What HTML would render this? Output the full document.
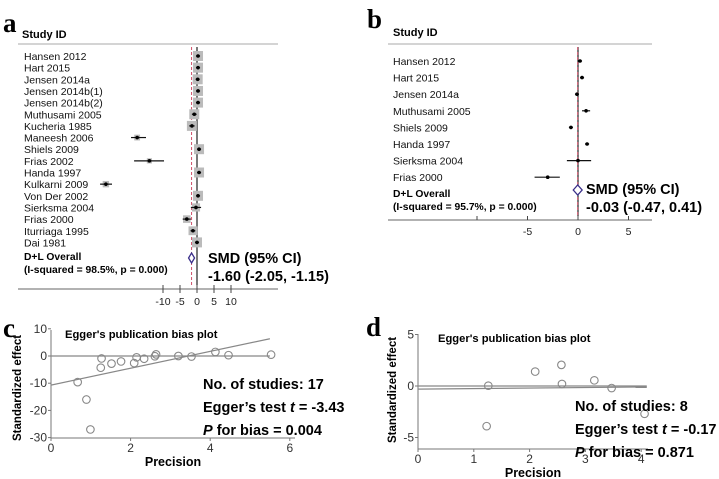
<!DOCTYPE html>
<html><head><meta charset="utf-8"><style>
html,body{margin:0;padding:0;background:#fff;}
svg{display:block;font-family:"Liberation Sans",Arial,sans-serif;}
</style></head><body>
<svg id="fig" width="719" height="479" viewBox="0 0 719 479" xmlns="http://www.w3.org/2000/svg">
<g id="pa"></g>
<g id="pb"></g>
<g id="pc"></g>
<g id="pd"></g>
</svg>
<script>
// ---- data ----
const studiesA = ["Hansen 2012","Hart 2015","Jensen 2014a","Jensen 2014b(1)","Jensen 2014b(2)","Muthusami 2005","Kucheria 1985","Maneesh 2006","Shiels 2009","Frias 2002","Handa 1997","Kulkarni 2009","Von Der 2002","Sierksma 2004","Frias 2000","Iturriaga 1995","Dai 1981"];
const effA = [0.3,0.3,0.2,0.3,0.3,-0.8,-1.5,-17.6,0.6,-14,0.6,-26.8,0.3,-0.3,-3,-1.2,0];
const loA  = [-0.3,-0.3,-0.4,-0.3,-0.3,-1.5,-2.3,-19.4,0,-18.5,0,-28.5,-0.3,-1.8,-4.2,-1.9,-0.6];
const hiA  = [0.9,0.9,0.8,0.9,0.9,-0.1,-0.7,-15,1.2,-9.7,1.2,-25,0.9,1.2,-1.8,-0.5,0.6];
const wA   = [1,1,1,1,1,1,1,0.3,1,0.2,1,0.4,1,0.7,0.6,0.8,1];
const ticksA = [-10,-5,0,5,10];
const overallA = [-1.6,-2.05,-1.15];

const studiesB = ["Hansen 2012","Hart 2015","Jensen 2014a","Muthusami 2005","Shiels 2009","Handa 1997","Sierksma 2004","Frias 2000"];
const effB = [0.2,0.4,-0.1,0.8,-0.7,0.9,0,-3];
const loB  = [0,0.2,-0.3,0.4,-0.9,0.7,-1.1,-4.3];
const hiB  = [0.4,0.6,0.1,1.2,-0.5,1.1,1.3,-1.8];
const ticksB = [-5,0,5];
const overallB = [-0.03,-0.47,0.41];

const precC = [0.67,0.89,0.99,1.27,1.25,1.52,1.76,2.09,2.15,2.34,2.61,2.64,3.2,3.53,4.13,4.46,5.53];
const stdC  = [-9.6,-16,-27,-0.9,-4.3,-2.8,-2,-2.6,-0.5,-1,-0.1,0.6,0,-0.2,1.5,0.3,0.5];
const xticksC = [0,2,4,6];
const yticksC = [10,0,-10,-20,-30];
const regC = [-10.7,3.1]; // intercept, slope

const precD = [1.26,1.23,2.1,2.57,2.58,3.16,3.47,4.06];
const stdD  = [0.03,-3.9,1.4,2.05,0.2,0.55,-0.2,-2.7];
const xticksD = [0,1,2,3,4];
const yticksD = [5,0,-5];
const regD = [-0.3,0.05];

const NS="http://www.w3.org/2000/svg";
function mk(parent,tag,attrs,text){const e=document.createElementNS(NS,tag);for(const k in attrs)e.setAttribute(k,attrs[k]);if(text!==undefined)e.textContent=text;parent.appendChild(e);return e;}

function forest(g,o){
  const x=v=>o.x0+v*o.sc;
  const row=i=>o.y0+i*o.dy;
  let t=mk(g,'text',{x:o.lx,y:o.ly,'font-family':'Liberation Serif,serif','font-size':27,'font-weight':'bold'},o.letter);
  
  
  t=mk(g,'text',{x:o.sx,y:o.sy,'font-size':11,'font-weight':'bold'},'Study ID');
  
  
  let l=mk(g,'line',{x1:o.ax1,x2:o.ax2,y1:o.top,y2:o.top,stroke:'#aaa','stroke-width':1});
  
  
  l=mk(g,'line',{x1:o.ax1,x2:o.ax2,y1:o.axY,y2:o.axY,stroke:'#666','stroke-width':1});
  
  
  l=mk(g,'line',{x1:x(0),x2:x(0),y1:o.top+3,y2:o.axY-4,stroke:'#222','stroke-width':1.2});
  
  
  l=mk(g,'line',{x1:x(o.ov[0]),x2:x(o.ov[0]),y1:o.top+3,y2:o.axY-4,stroke:'#d0506a','stroke-width':1,'stroke-dasharray':'3,2'});
  
  
  o.ticks.forEach(v=>{
    const tk=mk(g,'line',{x1:x(v),x2:x(v),y1:o.axY-4,y2:o.axY+(o.down?4:0),stroke:'#444'});
    
    
    const tl=mk(g,'text',{x:x(v),y:o.tlY,'font-size':10.5,'text-anchor':'middle',fill:'#222'},String(v));
    
    
  });
  o.studies.forEach((s,i)=>{
    const y=row(i);
    const lb=mk(g,'text',{x:o.nx,y:y+4,'font-size':10.5,fill:'#111'},s);
    
    
    if(o.w){const sz=4+o.w[i]*6;
      const sq=mk(g,'rect',{x:x(o.eff[i])-sz/2,y:y-sz/2,width:sz,height:sz,fill:'#bbb'});
      
      }
    const ci=mk(g,'line',{x1:x(o.lo[i]),x2:x(o.hi[i]),y1:y,y2:y,stroke:'#111','stroke-width':1.2});
    
    
    const pt=mk(g,'circle',{cx:x(o.eff[i]),cy:y,r:1.8,fill:'#000'});
    
    
  });
  t=mk(g,'text',{x:o.nx,y:o.ovY,'font-size':10.3,'font-weight':'bold'},'D+L Overall');
  
  
  t=mk(g,'text',{x:o.nx,y:o.ovY+13,'font-size':10.3,'font-weight':'bold'},o.isq);
  
  
  const dy=o.dmy, xl=x(o.ov[1]), xr=x(o.ov[2]), xc=x(o.ov[0]);
  const dm=mk(g,'polygon',{points:`${Math.min(xl,xc-3)},${dy} ${xc},${dy-5} ${Math.max(xr,xc+3)},${dy} ${xc},${dy+5}`,fill:'#fff',stroke:'#3a2f8a','stroke-width':1.3});
  
  
  t=mk(g,'text',{x:o.smdx,y:o.smdy,'font-size':14.5,'font-weight':'bold'},'SMD (95% CI)');
  
  
  t=mk(g,'text',{x:o.smdx,y:o.smdy+18,'font-size':14.5,'font-weight':'bold'},`${o.ov[0].toFixed(2)} (${o.ov[1].toFixed(2)}, ${o.ov[2].toFixed(2)})`);
  
  
}

forest(document.getElementById('pa'),{letter:'a',lx:3,ly:32,sx:22,sy:38,top:44,ax1:18,ax2:278,axY:289,x0:197,sc:3.4,
 y0:56,dy:11.65,nx:24,studies:studiesA,eff:effA,lo:loA,hi:hiA,w:wA,ticks:ticksA,tlY:305,down:true,ov:overallA,
 ovY:260,dmy:258,isq:'(I-squared = 98.5%, p = 0.000)',smdx:208,smdy:263});
forest(document.getElementById('pb'),{letter:'b',lx:367,ly:28,sx:393,sy:36,top:44,ax1:388,ax2:652,axY:220,x0:578,sc:10.1,
 y0:61,dy:16.6,nx:393,studies:studiesB,eff:effB,lo:loB,hi:hiB,w:null,ticks:ticksB.concat([-10]),tlY:235,down:false,ov:overallB,
 ovY:197,dmy:190,isq:'(I-squared = 95.7%, p = 0.000)',smdx:586,smdy:194});
// hide unlabeled -10 text in b
document.querySelectorAll('#pb text').forEach(e=>{if(e.textContent==='-10')e.remove();});

function egger(g,o){
  const x=v=>o.x0+v*o.sx, y=v=>o.y0-v*o.sy;
  let t=mk(g,'text',{x:o.lx,y:o.ly,'font-family':'Liberation Serif,serif','font-size':27,'font-weight':'bold'},o.letter);
  
  
  let l=mk(g,'line',{x1:o.x0,x2:o.x0,y1:o.yTop,y2:o.axY,stroke:'#777'});
  
  
  l=mk(g,'line',{x1:o.x0,x2:o.xEnd,y1:o.axY,y2:o.axY,stroke:'#777'});
  
  
  o.xt.forEach(v=>{
    const tk=mk(g,'line',{x1:x(v),x2:x(v),y1:o.axY,y2:o.axY+3,stroke:'#777'});
    
    
    const tl=mk(g,'text',{x:x(v),y:o.axY+14,'font-size':12,'text-anchor':'middle',fill:'#333'},String(v));
    
    
  });
  o.yt.forEach(v=>{
    const tk=mk(g,'line',{x1:o.x0-3,x2:o.x0,y1:y(v),y2:y(v),stroke:'#777'});
    
    
    const tl=mk(g,'text',{x:o.x0-4,y:y(v)+4,'font-size':12,'text-anchor':'end',fill:'#333'},String(v));
    
    
  });
  l=mk(g,'line',{x1:o.x0,x2:x(o.xMax),y1:y(0),y2:y(0),stroke:'#888','stroke-width':1.2});
  
  
  l=mk(g,'line',{x1:o.x0,x2:x(o.xMax),y1:y(o.reg[0]),y2:y(o.reg[0]+o.reg[1]*o.xMax),stroke:'#888','stroke-width':1.2});
  
  
  o.px.forEach((p,i)=>{
    const c=mk(g,'circle',{cx:x(p),cy:y(o.py[i]),r:3.8,fill:'none',stroke:'#888','stroke-width':1.1});
    
    
  });
  t=mk(g,'text',{x:o.tx,y:o.ty,'font-size':11.2,'font-weight':'bold'},"Egger's publication bias plot");
  
  
  t=mk(g,'text',{x:(o.x0+o.xEnd)/2,y:o.axY+28,'font-size':12.5,'font-weight':'bold','text-anchor':'middle'},'Precision');
  
  
  t=mk(g,'text',{x:0,y:0,'font-size':11.5,'font-weight':'bold','text-anchor':'middle',transform:`translate(${o.ytx},${o.yty}) rotate(-90)`},'Standardized effect');
  
  
  const lines=[o.n,o.egg,o.pb];
  lines.forEach((s,i)=>{
    const tt=mk(g,'text',{x:o.stx,y:o.sty+i*23,'font-size':14.5,'font-weight':'bold'});
    
    
    tt.innerHTML=s;
  });
}
egger(document.getElementById('pc'),{letter:'c',lx:3,ly:337,x0:51,sx:39.8,y0:356,sy:2.72,yTop:330,axY:438,xEnd:295,xMax:5.5,
 xt:xticksC,yt:yticksC,reg:regC,px:precC,py:stdC,tx:65,ty:338,ytx:21,yty:388,stx:203,sty:389,
 n:'No. of studies: 17',egg:"Egger’s test <tspan font-style='italic'>t</tspan> = -3.43",pb:"<tspan font-style='italic'>P</tspan> for bias = 0.004"});
egger(document.getElementById('pd'),{letter:'d',lx:366,ly:336,x0:418,sx:55.8,y0:386,sy:10.3,yTop:334,axY:449,xEnd:648,xMax:4.1,
 xt:xticksD,yt:yticksD,reg:regD,px:precD,py:stdD,tx:438,ty:342,ytx:396,yty:390,stx:575,sty:411,
 n:'No. of studies: 8',egg:"Egger’s test <tspan font-style='italic'>t</tspan> = -0.17",pb:"<tspan font-style='italic'>P</tspan> for bias = 0.871"});
</script>
</body></html>
